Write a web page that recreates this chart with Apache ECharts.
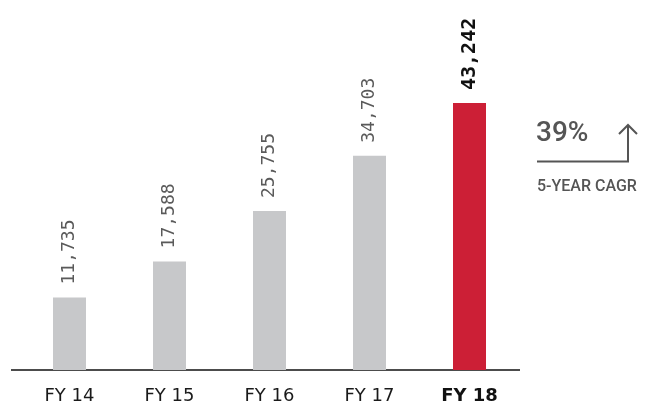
<!DOCTYPE html>
<html>
<head>
<meta charset="utf-8">
<script src="https://cdn.jsdelivr.net/npm/echarts@6/dist/echarts.min.js"></script>
<style>html,body{margin:0;padding:0;background:#fff}#c{width:645px;height:405px}</style>
</head>
<body>
<div id="c"></div>
<script>
var categories = ['FY 14', 'FY 15', 'FY 16', 'FY 17', 'FY 18'];
var values = [11735, 17588, 25755, 34703, 43242];
var highlightIndex = 4;
var cagrText = '39%';
var cagrLabel = '5-YEAR CAGR';

var chart = echarts.init(document.getElementById('c'));
var data = values.map(function (v, i) {
  var hi = i === highlightIndex;
  return {
    value: v,
    itemStyle: { color: hi ? '#cc1f36' : '#c7c8ca' },
    label: {
      fontWeight: hi ? 'bold' : 'normal',
      color: hi ? '#111' : '#5a5a5a',
      fontSize: hi ? 20 : 18
    }
  };
});
chart.setOption({
  animation: false,
  grid: { left: 19.5, right: 125.5, top: 61.3, bottom: 35 },
  xAxis: {
    type: 'category',
    data: categories,
    axisTick: { show: false },
    axisLine: { show: false },
    axisLabel: {
      interval: 0,
      margin: 17,
      fontFamily: 'DejaVu Sans',
      fontSize: 18,
      color: '#1a1a1a',
      formatter: function (v, i) { return i === highlightIndex ? '{b|' + v + '}' : v; },
      rich: { b: { fontWeight: 'bold', fontFamily: 'DejaVu Sans', fontSize: 18, color: '#111' } }
    }
  },
  yAxis: { type: 'value', min: 0, max: 50000, show: false, splitLine: { show: false } },
  series: [{
    type: 'bar',
    data: data,
    barWidth: 33,
    label: {
      show: true,
      position: 'top',
      rotate: 90,
      align: 'left',
      verticalAlign: 'middle',
      distance: 13,
      fontFamily: 'DejaVu Sans Mono',
      formatter: function (p) { return p.value.toLocaleString('en-US'); }
    }
  }],
  graphic: [
    { type: 'line', shape: { x1: 11, y1: 370, x2: 520, y2: 370 }, style: { stroke: '#111', lineWidth: 1.5 } },
    { type: 'polyline', shape: { points: [[537, 161.5], [628, 161.5], [628, 125]] }, style: { stroke: '#555', lineWidth: 2, fill: null } },
    { type: 'polyline', shape: { points: [[619, 134], [628, 125], [637, 134]] }, style: { stroke: '#555', lineWidth: 2, fill: null } },
    { type: 'text', left: 536, top: 120, style: { text: cagrText, font: '500 28px Roboto, sans-serif', fill: '#555' } },
    { type: 'text', left: 537, top: 179, style: { text: cagrLabel, font: '500 16px Roboto, sans-serif', fill: '#555' } }
  ]
});
</script>
</body>
</html>
